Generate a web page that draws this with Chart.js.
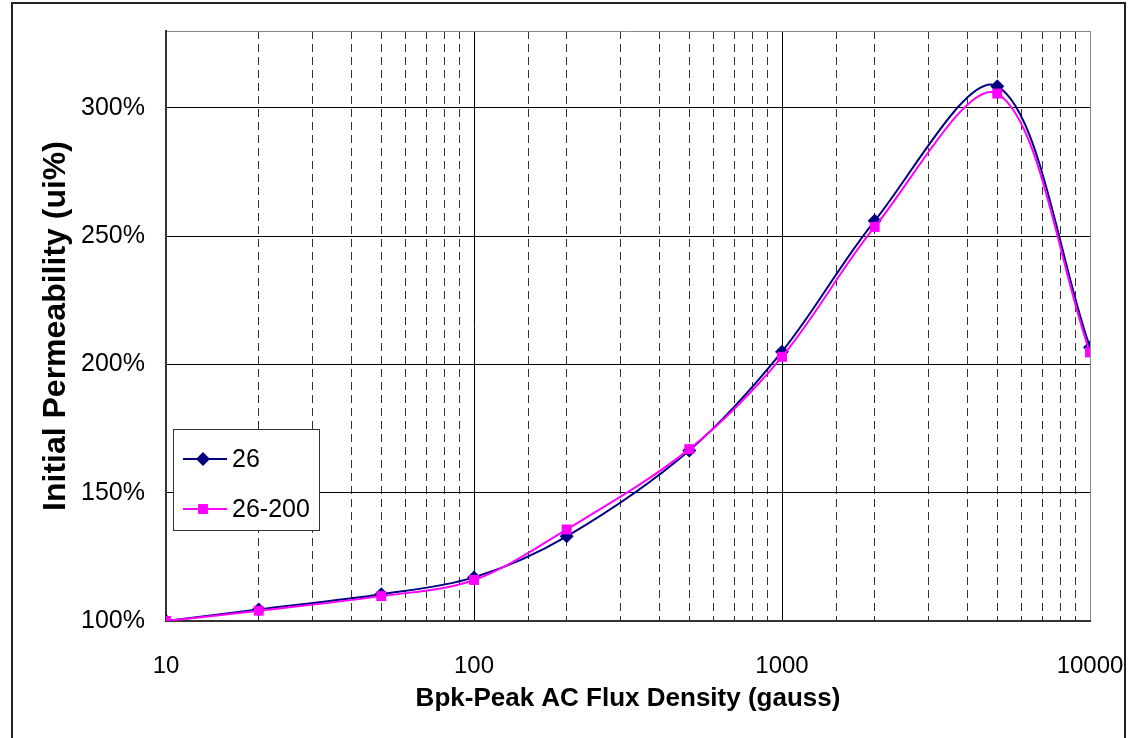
<!DOCTYPE html>
<html>
<head>
<meta charset="utf-8">
<script src="https://cdn.jsdelivr.net/npm/chart.js@4"></script>
<style>
  html, body { margin: 0; padding: 0; background: #fff; overflow: hidden; }
  #wrap { position: relative; width: 1129px; height: 738px; }
  #frame { position: absolute; left: 11px; top: 2px; width: 1115px; height: 800px;
           border: 2px solid #222; box-sizing: border-box; pointer-events: none; }
</style>
</head>
<body>
<div id="wrap">
  <canvas id="permChart" width="1129" height="738"></canvas>
  <div id="frame"></div>
</div>
<script>
const fluxDensity = [10, 20, 50, 100, 200, 500, 1000, 2000, 5000, 10000];
const perm26 = [100, 104.5, 110.4, 117, 133, 166.5, 205, 256, 308.5, 206.7];
const perm26_200 = [100, 104, 109.7, 116, 135.7, 167, 203, 253.6, 305.6, 204.7];
const xMajorTicks = [10, 100, 1000, 10000];
const yTicks = [100, 150, 200, 250, 300];

const FONT = "'Liberation Sans', Arial, sans-serif";

// legend drawn in the chart area, like the original Excel box
const boxLegend = {
  id: 'boxLegend',
  afterDatasetsDraw(chart) {
    const ctx = chart.ctx;
    const x0 = chart.chartArea.left + 7;
    const y0 = 429;
    ctx.save();
    ctx.fillStyle = '#fff';
    ctx.fillRect(x0, y0, 146, 101);
    ctx.strokeStyle = '#333';
    ctx.lineWidth = 1;
    ctx.strokeRect(x0 + 0.5, y0 + 0.5, 146, 101);
    chart.data.datasets.forEach((ds, i) => {
      const y = y0 + 30 + i * 50;
      ctx.strokeStyle = ds.borderColor;
      ctx.lineWidth = 2;
      ctx.beginPath();
      ctx.moveTo(x0 + 10, y);
      ctx.lineTo(x0 + 54, y);
      ctx.stroke();
      ctx.fillStyle = ds.pointBackgroundColor;
      Chart.helpers.drawPoint(ctx, {pointStyle: ds.pointStyle, radius: ds.pointRadius, borderWidth: 0}, x0 + 30, y);
      ctx.fillStyle = '#000';
      ctx.font = '25px ' + FONT;
      ctx.textBaseline = 'middle';
      ctx.fillText(ds.label, x0 + 59, y + 1);
    });
    ctx.restore();
  }
};

new Chart(document.getElementById('permChart'), {
  type: 'line',
  data: {
    datasets: [{
      label: '26',
      data: fluxDensity.map((x, i) => ({x: x, y: perm26[i]})),
      borderColor: '#000080',
      backgroundColor: '#000080',
      pointBackgroundColor: '#000080',
      pointBorderWidth: 0,
      pointStyle: 'rectRot',
      pointRadius: 7,
      borderWidth: 2,
      tension: 0.33,
      order: 2
    }, {
      label: '26-200',
      data: fluxDensity.map((x, i) => ({x: x, y: perm26_200[i]})),
      borderColor: '#FF00FF',
      backgroundColor: '#FF00FF',
      pointBackgroundColor: '#FF00FF',
      pointBorderWidth: 0,
      pointStyle: 'rect',
      pointRadius: 7,
      borderWidth: 2,
      tension: 0.33,
      order: 1
    }]
  },
  options: {
    responsive: false,
    animation: false,
    layout: { padding: { left: 0, right: 39, top: 0, bottom: 0 } },
    plugins: { legend: { display: false }, tooltip: { enabled: false } },
    scales: {
      x: {
        type: 'logarithmic',
        position: 'bottom',
        min: 10,
        max: 10000,
        afterFit: (scale) => { scale.height = 117; },
        grid: { color: '#333', lineWidth: 1, drawTicks: true, tickLength: 31, tickColor: 'rgba(0,0,0,0)' },
        border: { color: '#333', width: 2, dash: [8, 5] },
        ticks: {
          autoSkip: false,
          maxRotation: 0,
          padding: 0,
          color: '#000',
          font: { family: FONT, size: 24 },
          callback: (v) => xMajorTicks.includes(v) ? String(v) : ''
        },
        title: {
          display: true,
          text: 'Bpk-Peak AC Flux Density (gauss)',
          color: '#000',
          font: { family: FONT, size: 26, weight: 'bold' },
          padding: { top: 0, bottom: 24 }
        }
      },
      x2: {
        type: 'logarithmic',
        position: 'top',
        min: 10,
        max: 10000,
        afterBuildTicks: (scale) => { scale.ticks = xMajorTicks.map(v => ({value: v})); },
        afterFit: (scale) => { scale.height = 31; },
        grid: {
          drawTicks: false,
          lineWidth: 1,
          color: (c) => c.tick && c.tick.value === 10000 ? '#888' : '#000'
        },
        border: { color: '#888', width: 1 },
        ticks: { display: false }
      },
      y: {
        min: 100,
        max: 330,
        afterBuildTicks: (scale) => { scale.ticks = yTicks.map(v => ({value: v})); },
        afterFit: (scale) => { scale.width = 166; },
        grid: { color: '#000', lineWidth: 1, drawTicks: true, tickLength: 21, tickColor: 'rgba(0,0,0,0)' },
        border: { color: '#333', width: 2 },
        ticks: {
          padding: 0,
          color: '#000',
          font: { family: FONT, size: 25 },
          callback: (v) => v + '%'
        },
        title: {
          display: true,
          text: 'Initial Permeability (ui%)',
          color: '#000',
          font: { family: FONT, size: 32, weight: 'bold' },
          padding: { top: 37, bottom: 0 }
        }
      }
    }
  },
  plugins: [boxLegend]
});
</script>
</body>
</html>
